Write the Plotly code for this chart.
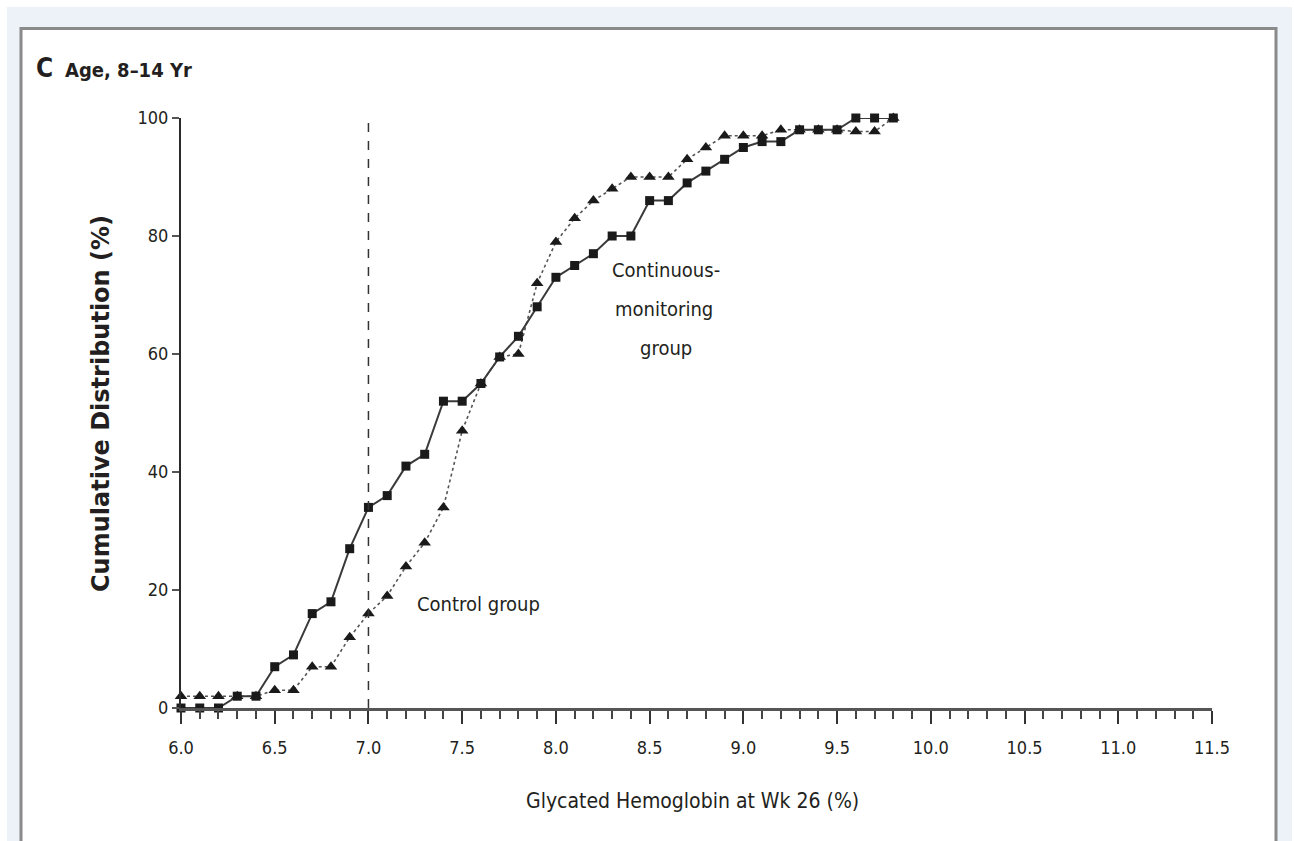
import plotly.graph_objects as go

# ---- data ----
hba1c = [6.0, 6.1, 6.2, 6.3, 6.4, 6.5, 6.6, 6.7, 6.8, 6.9,
         7.0, 7.1, 7.2, 7.3, 7.4, 7.5, 7.6, 7.7, 7.8, 7.9,
         8.0, 8.1, 8.2, 8.3, 8.4, 8.5, 8.6, 8.7, 8.8, 8.9,
         9.0, 9.1, 9.2, 9.3, 9.4, 9.5, 9.6, 9.7, 9.8]
continuous_pct = [0, 0, 0, 2, 2, 7, 9, 16, 18, 27,
                  34, 36, 41, 43, 52, 52, 55, 59.5, 63, 68,
                  73, 75, 77, 80, 80, 86, 86, 89, 91, 93,
                  95, 96, 96, 98, 98, 98, 100, 100, 100]
control_pct = [2, 2, 2, 2, 2, 3, 3, 7, 7, 12,
               16, 19, 24, 28, 34, 47, 55, 59.5, 60, 72,
               79, 83, 86, 88, 90, 90, 90, 93, 95, 97,
               97, 97, 98, 98, 98, 98, 97.7, 97.7, 100]
x_ticks = [6.0, 6.5, 7.0, 7.5, 8.0, 8.5, 9.0, 9.5, 10.0, 10.5, 11.0, 11.5]
x_ticklabels = ["6.0", "6.5", "7.0", "7.5", "8.0", "8.5", "9.0", "9.5", "10.0", "10.5", "11.0", "11.5"]
y_ticks = [0, 20, 40, 60, 80, 100]
target = 7.0

FONT = "Liberation Sans Narrow, DejaVu Sans Condensed, Roboto, sans-serif"
WIDE = "DejaVu Sans, sans-serif"
INK = "#231f20"

W, H = 1294, 841
L, R, T, B = 181, 82, 118, 133
PW, PH = W - L - R, H - T - B


def px(xp):
    return (xp - L) / PW


def py(yp):
    return (H - B - yp) / PH


fig = go.Figure()

fig.add_trace(go.Scatter(
    x=hba1c, y=control_pct, mode="lines+markers", name="Control group",
    line=dict(color="#555555", width=1.6, dash="dot"),
    marker=dict(symbol="triangle-up", size=11, color="#1a1a1a"),
    cliponaxis=False, showlegend=False))

fig.add_trace(go.Scatter(
    x=hba1c, y=continuous_pct, mode="lines+markers", name="Continuous-monitoring group",
    line=dict(color="#3a3a3a", width=2),
    marker=dict(symbol="square", size=9, color="#1a1a1a"),
    cliponaxis=False, showlegend=False))

shapes = [
    # light outer background
    dict(type="rect", xref="paper", yref="paper", x0=px(7), x1=px(1292), y0=py(860), y1=py(7),
         fillcolor="#edf2f9", line=dict(width=0), layer="below"),
    # white panel with grey frame
    dict(type="rect", xref="paper", yref="paper", x0=px(21), x1=px(1276), y0=py(880), y1=py(28.5),
         fillcolor="white", line=dict(color="#8a8a8a", width=3), layer="below"),
    # target line
    dict(type="line", xref="x", yref="y", x0=target, x1=target, y0=0, y1=100,
         line=dict(color="#333333", width=1.5, dash="dash")),
]

annotations = [
    dict(text="<b>C</b>", xref="paper", yref="paper", x=px(34), y=py(68), xanchor="left", yanchor="middle",
         showarrow=False, font=dict(family=FONT, size=26, color=INK)),
    dict(text="<b>Age, 8–14 Yr</b>", xref="paper", yref="paper", x=px(63), y=py(70), xanchor="left",
         yanchor="middle", showarrow=False, font=dict(family=FONT, size=20, color=INK)),
    dict(text="Cumulative Distribution (%)", xref="paper", yref="paper", x=px(101), y=py(404),
         textangle=-90, xanchor="center", yanchor="middle", showarrow=False,
         font=dict(family=WIDE, size=24, color=INK, weight="bold")),
    dict(text="Glycated Hemoglobin at Wk 26 (%)", xref="paper", yref="paper", x=px(692), y=py(801),
         xanchor="center", yanchor="middle", showarrow=False, font=dict(family=FONT, size=21, color=INK)),
    dict(text="Continuous-", xref="paper", yref="paper", x=px(666), y=py(270),
         xanchor="center", yanchor="middle", showarrow=False, font=dict(family=FONT, size=20, color=INK)),
    dict(text="monitoring", xref="paper", yref="paper", x=px(664), y=py(309),
         xanchor="center", yanchor="middle", showarrow=False, font=dict(family=FONT, size=20, color=INK)),
    dict(text="group", xref="paper", yref="paper", x=px(666), y=py(348),
         xanchor="center", yanchor="middle", showarrow=False, font=dict(family=FONT, size=20, color=INK)),
    dict(text="Control group", xref="paper", yref="paper", x=px(478), y=py(604),
         xanchor="center", yanchor="middle", showarrow=False, font=dict(family=FONT, size=20, color=INK)),
]

fig.update_layout(
    width=W, height=H,
    margin=dict(l=L, r=R, t=T, b=B),
    paper_bgcolor="white", plot_bgcolor="rgba(0,0,0,0)",
    shapes=shapes, annotations=annotations, showlegend=False,
    xaxis=dict(range=[6.0, 11.5], tickvals=x_ticks, ticktext=x_ticklabels,
               showgrid=False, zeroline=False, showline=True, linecolor="#555555", linewidth=3,
               ticks="outside", ticklen=13, tickwidth=2, tickcolor="#333333",
               ticklabelstandoff=8,
               minor=dict(dtick=0.1, tick0=6.0, ticks="outside", ticklen=8, tickwidth=1.5,
                          tickcolor="#444444", showgrid=False),
               tickfont=dict(family=FONT, size=18, color=INK)),
    yaxis=dict(range=[0, 100], tickvals=y_ticks, showgrid=False, zeroline=False,
               showline=True, linecolor="#2a2a2a", linewidth=2,
               ticks="outside", ticklen=7, tickwidth=2, tickcolor="#555555",
               tickfont=dict(family=FONT, size=18, color=INK)),
)

fig.write_html("out.html")
